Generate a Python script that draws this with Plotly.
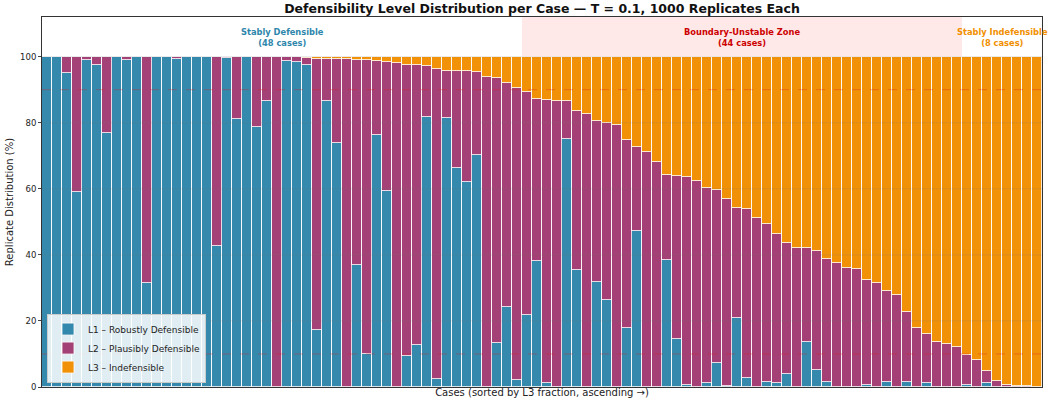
import plotly.graph_objects as go

cases = list(range(100))

l1 = [100, 100, 95.0, 58.9, 98.9, 97.6, 76.9, 100, 98.9, 100,
      31.4, 100, 100, 99.3, 100, 100, 100, 42.7, 99.7, 81.1,
      100, 78.7, 86.7, 0, 98.8, 98.3, 97.6, 17.3, 86.5, 73.8,
      0, 37.0, 10.0, 76.4, 59.2, 0, 9.5, 12.7, 81.7, 2.3,
      81.4, 66.2, 62.2, 70.3, 0.1, 13.4, 24.1, 2.1, 21.8, 38.0,
      1.3, 0, 75.2, 35.5, 0, 31.7, 26.2, 0, 17.8, 47.1,
      0, 0, 38.3, 14.4, 0.6, 0, 1.1, 7.2, 0.3, 21.0,
      2.8, 0, 1.6, 1.1, 3.9, 0, 13.6, 5.2, 1.5, 0,
      0, 0, 0.6, 0, 1.6, 0, 1.6, 0, 1.1, 0,
      0, 0, 0.5, 0, 1.1, 0, 0, 0, 0, 0]

l2 = [0, 0, 5.0, 41.1, 1.1, 2.4, 23.1, 0, 1.1, 0,
      68.6, 0, 0, 0.7, 0, 0, 0, 57.3, 0.3, 18.9,
      0, 21.3, 13.3, 100, 1.0, 1.5, 2.0, 82.1, 12.8, 25.4,
      99.2, 62.1, 89.1, 22.3, 39.1, 98.2, 88.1, 84.9, 15.6, 94.1,
      14.4, 29.4, 33.4, 25.2, 93.8, 80.1, 67.9, 88.5, 67.5, 49.3,
      85.7, 86.7, 11.3, 48.1, 82.5, 48.9, 53.8, 79.2, 56.9, 25.5,
      71.1, 68.0, 25.8, 49.5, 62.9, 62.5, 59.0, 52.4, 56.5, 33.3,
      51.1, 51.3, 47.8, 45.3, 39.7, 42.2, 28.5, 36.0, 37.3, 37.4,
      35.9, 35.6, 31.8, 31.5, 27.5, 27.9, 21.0, 17.8, 14.9, 13.6,
      13.0, 12.2, 9.1, 8.3, 3.6, 1.7, 0.6, 0.4, 0.3, 0]

l3 = [0, 0, 0, 0, 0, 0, 0, 0, 0, 0,
      0, 0, 0, 0, 0, 0, 0, 0, 0, 0,
      0, 0, 0, 0, 0.2, 0.2, 0.4, 0.6, 0.7, 0.8,
      0.8, 0.9, 0.9, 1.3, 1.7, 1.8, 2.4, 2.4, 2.7, 3.6,
      4.2, 4.4, 4.4, 4.5, 6.1, 6.5, 8.0, 9.4, 10.7, 12.7,
      13.0, 13.3, 13.5, 16.4, 17.5, 19.4, 20.0, 20.8, 25.3, 27.4,
      28.9, 32.0, 35.9, 36.1, 36.5, 37.5, 39.9, 40.4, 43.2, 45.7,
      46.1, 48.7, 50.6, 53.6, 56.4, 57.8, 57.9, 58.8, 61.2, 62.6,
      64.1, 64.4, 67.6, 68.5, 70.9, 72.1, 77.4, 82.2, 84.0, 86.4,
      87.0, 87.8, 90.4, 91.7, 95.3, 98.3, 99.4, 99.6, 99.7, 100]

series_names = ["L1 \u2013 Robustly Defensible", "L2 \u2013 Plausibly Defensible", "L3 \u2013 Indefensible"]
series_colors = ["#2E86AB", "#A23B72", "#F18F01"]

n_stable_def = 48
n_boundary = 44
n_stable_indef = 8
low_thr, high_thr = 10, 90
grid_vals = [20, 40, 60, 80, 100]

fig = go.Figure()
for vals, name, col in zip([l1, l2, l3], series_names, series_colors):
    fig.add_trace(go.Bar(
        x=cases, y=vals, name=name, width=1.0,
        marker=dict(color=col, line=dict(color="white", width=0.8)),
        opacity=0.97,
    ))

b0 = n_stable_def - 0.5
b1 = n_stable_def + n_boundary - 0.5
fig.add_shape(type="rect", xref="x", yref="paper", x0=b0, x1=b1, y0=0, y1=1,
              fillcolor="rgba(255,0,0,0.09)", line=dict(width=0), layer="below")
for yv in grid_vals:
    fig.add_shape(type="line", xref="paper", yref="y", x0=0, x1=1, y0=yv, y1=yv,
                  line=dict(color="rgba(120,120,120,0.18)", width=1), layer="above")
for yv in [low_thr, high_thr]:
    fig.add_shape(type="line", xref="paper", yref="y", x0=0, x1=1, y0=yv, y1=yv,
                  line=dict(color="rgba(220,30,30,0.35)", width=1, dash="dash"), layer="above")

ann_font = dict(family="DejaVu Sans", size=8.3)
fig.add_annotation(x=(n_stable_def - 1) / 2, y=105.8, xref="x", yref="y",
                   text=f"<b>Stably Defensible<br>({n_stable_def} cases)</b>", showarrow=False,
                   font=dict(**ann_font, color="#2E86AB"))
fig.add_annotation(x=(b0 + b1) / 2, y=105.8, xref="x", yref="y",
                   text=f"<b>Boundary-Unstable Zone<br>({n_boundary} cases)</b>", showarrow=False,
                   font=dict(**ann_font, color="#CC0000"))
fig.add_annotation(x=(b1 + 99.5) / 2, y=105.8, xref="x", yref="y",
                   text=f"<b>Stably Indefensible<br>({n_stable_indef} cases)</b>", showarrow=False,
                   font=dict(**ann_font, color="#F18F01"))

fig.update_layout(
    width=1052, height=406,
    margin=dict(l=42, r=10, t=17, b=19, autoexpand=False),
    barmode="stack", bargap=0,
    paper_bgcolor="white", plot_bgcolor="white",
    font=dict(family="DejaVu Sans", size=9, color="#222"),
    title=dict(text="<b>Defensibility Level Distribution per Case \u2014 T = 0.1, 1000 Replicates Each</b>",
               x=0.5, xref="paper", xanchor="center", yref="container", y=0.978, yanchor="middle",
               font=dict(size=12.5, color="#111")),
    showlegend=True,
    legend=dict(x=0.005, y=0.012, xanchor="left", yanchor="bottom", traceorder="normal",
                bgcolor="rgba(255,255,255,0.85)", bordercolor="#cccccc", borderwidth=1,
                font=dict(size=9, color="#222"), itemwidth=30, tracegroupgap=0),
    xaxis=dict(range=[-0.5, 99.5], showticklabels=False, ticks="", showgrid=False,
               showline=True, linecolor="#333", mirror=True, zeroline=False, automargin=False,
               title=dict(text="Cases (sorted by L3 fraction, ascending \u2192)", standoff=1,
                          font=dict(size=10))),
    yaxis=dict(range=[0, 112], tickvals=[0, 20, 40, 60, 80, 100], ticks="outside", ticklen=3,
               showgrid=False,
               showline=True, linecolor="#333", mirror=True, zeroline=False, automargin=False,
               tickfont=dict(size=8.5),
               title=dict(text="Replicate Distribution (%)", standoff=4, font=dict(size=10))),
)

fig.write_html("out.html", config={"displayModeBar": False},
               post_script="document.body.style.margin='0px';document.body.style.overflow='hidden';")
